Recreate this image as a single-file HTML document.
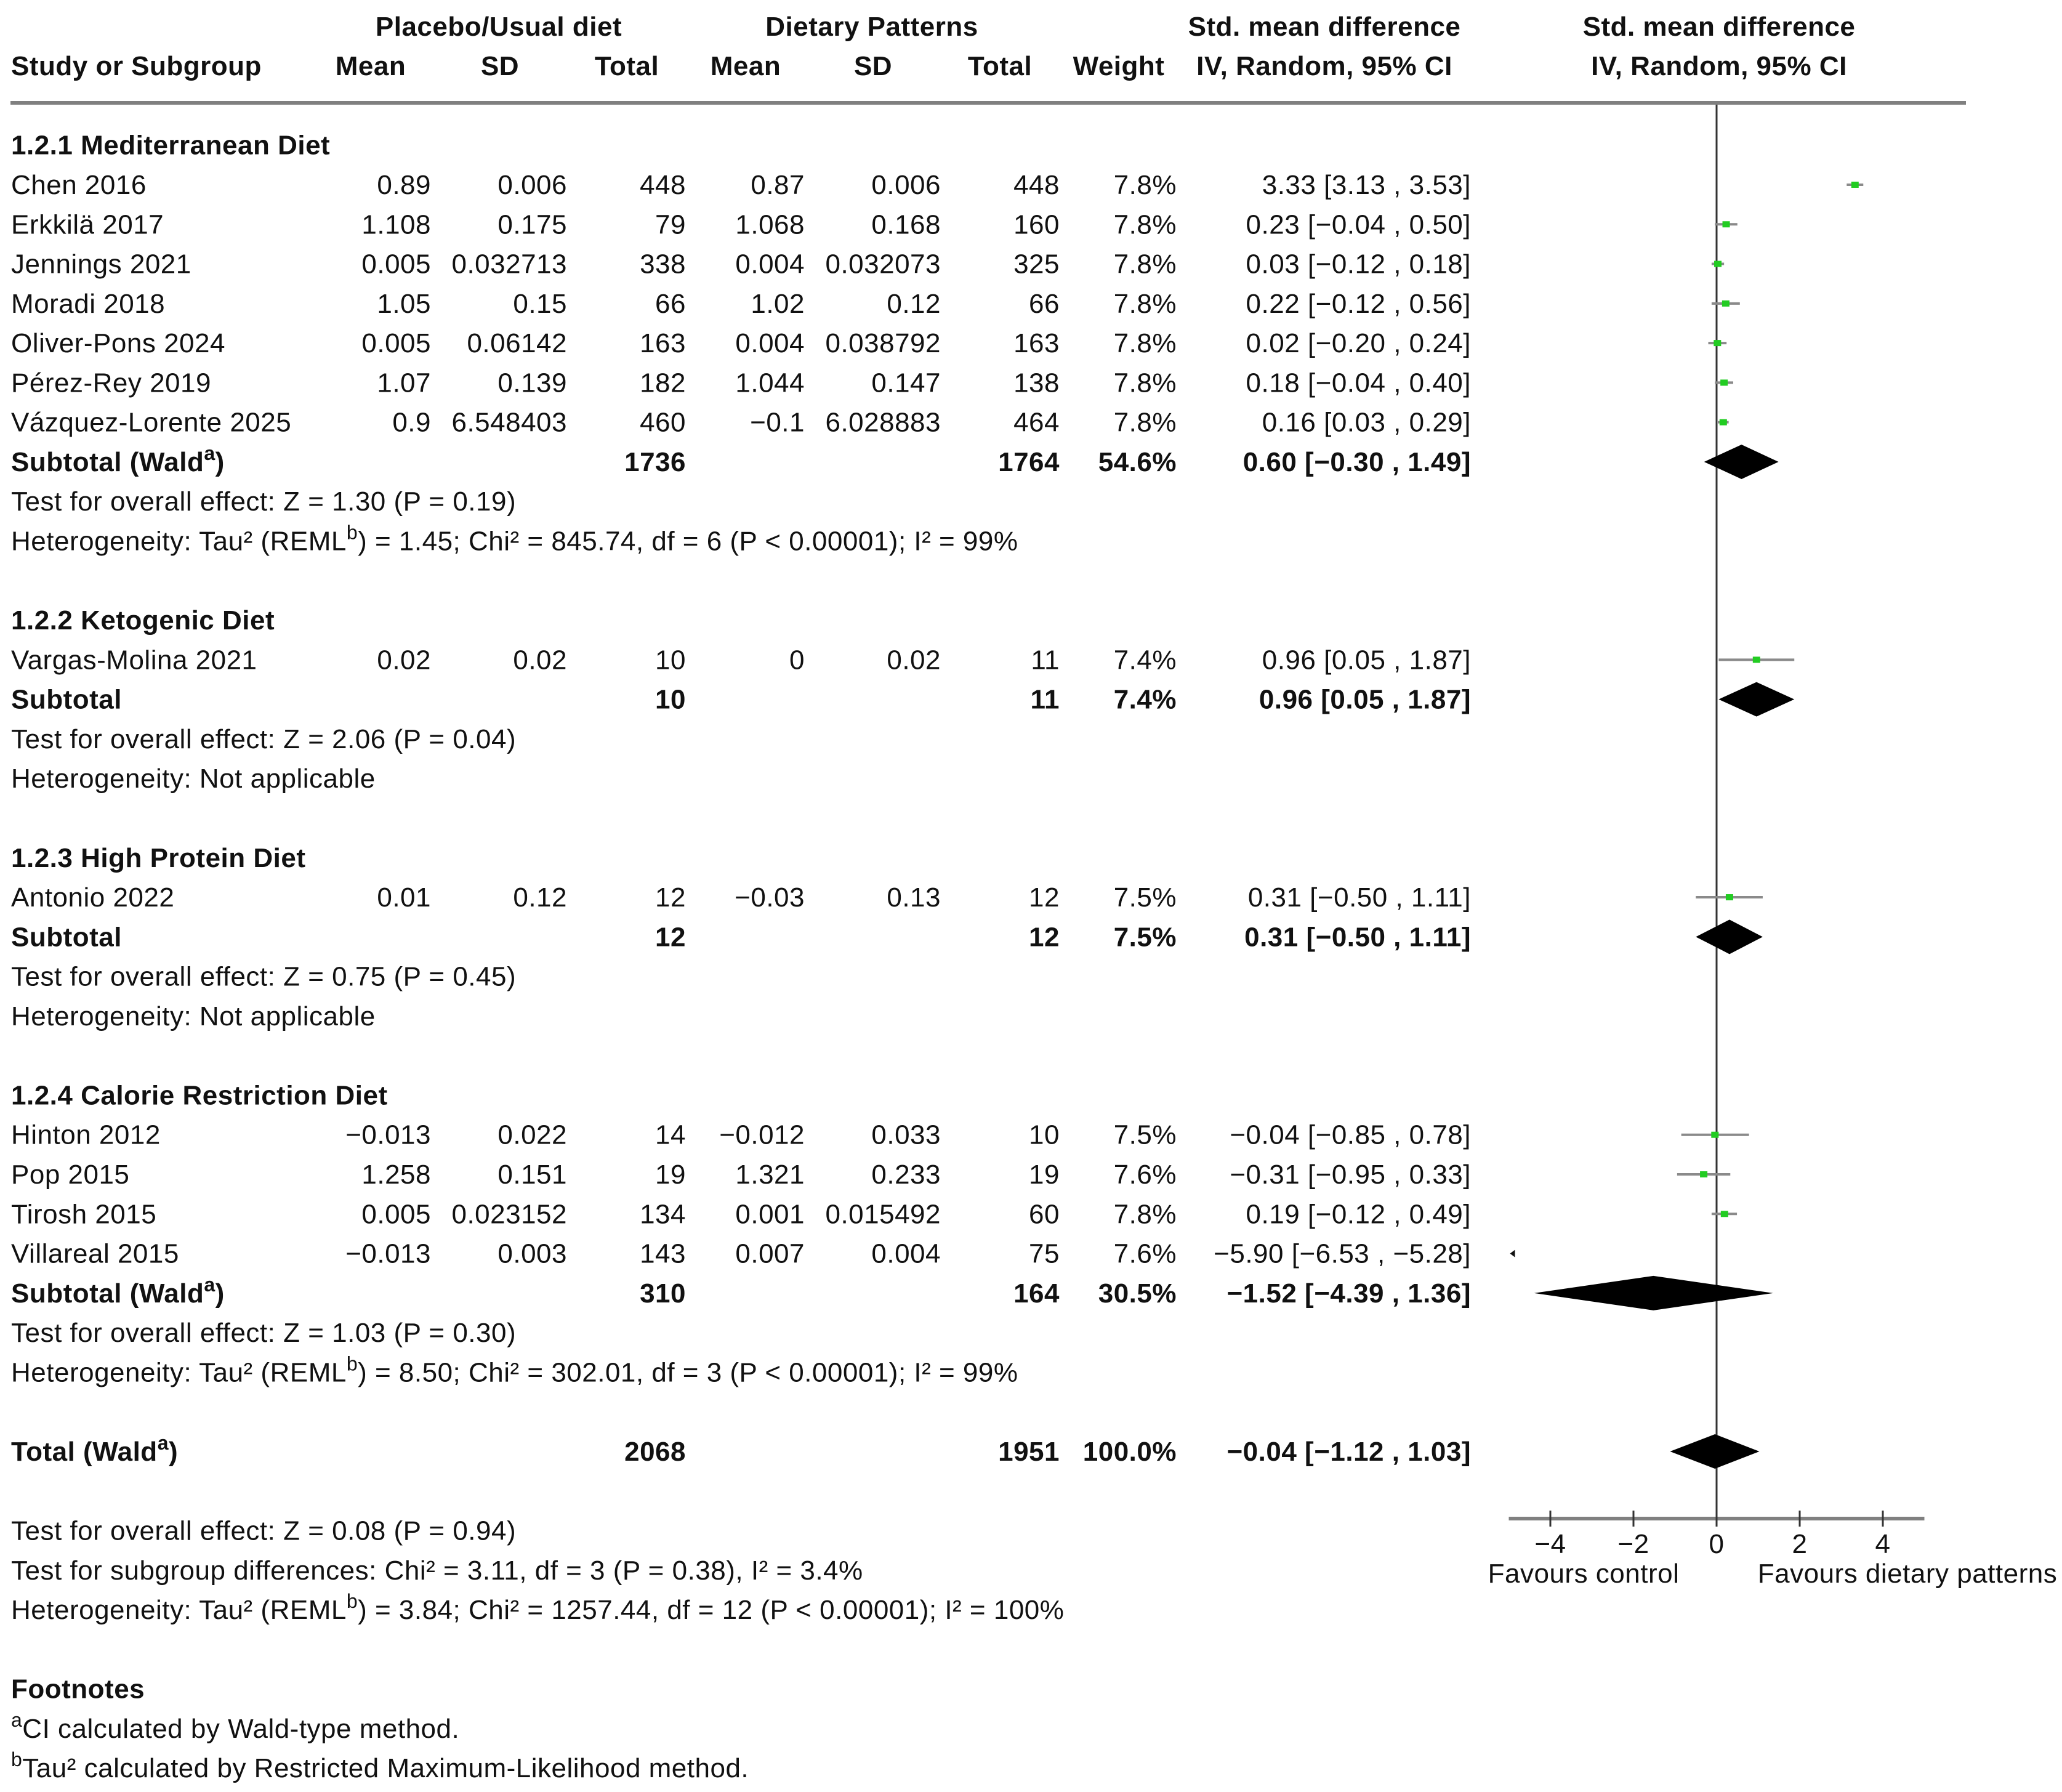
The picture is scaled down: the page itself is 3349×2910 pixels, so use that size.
<!DOCTYPE html>
<html><head><meta charset="utf-8"><style>
html,body{margin:0;padding:0;background:#fff;}
svg{display:block;font-family:"Liberation Sans",Arial,sans-serif;}
text{font-size:44px;fill:#111;letter-spacing:0.5px;}
.b{font-weight:bold;}
</style></head><body>
<svg id="c" width="3349" height="2910" viewBox="0 0 3349 2910" xmlns="http://www.w3.org/2000/svg"></svg>
<script>
const rowNames=["1.2.1 Mediterranean Diet","Chen 2016","Erkkilä 2017","Jennings 2021","Moradi 2018","Oliver-Pons 2024","Pérez-Rey 2019","Vázquez-Lorente 2025","Subtotal (Wald|a|)","Test for overall effect: Z = 1.30 (P = 0.19)","Heterogeneity: Tau² (REML|b|) = 1.45; Chi² = 845.74, df = 6 (P < 0.00001); I² = 99%","",
"1.2.2 Ketogenic Diet","Vargas-Molina 2021","Subtotal","Test for overall effect: Z = 2.06 (P = 0.04)","Heterogeneity: Not applicable","",
"1.2.3 High Protein Diet","Antonio 2022","Subtotal","Test for overall effect: Z = 0.75 (P = 0.45)","Heterogeneity: Not applicable","",
"1.2.4 Calorie Restriction Diet","Hinton 2012","Pop 2015","Tirosh 2015","Villareal 2015","Subtotal (Wald|a|)","Test for overall effect: Z = 1.03 (P = 0.30)","Heterogeneity: Tau² (REML|b|) = 8.50; Chi² = 302.01, df = 3 (P < 0.00001); I² = 99%","",
"Total (Wald|a|)","","Test for overall effect: Z = 0.08 (P = 0.94)","Test for subgroup differences: Chi² = 3.11, df = 3 (P = 0.38), I² = 3.4%","Heterogeneity: Tau² (REML|b|) = 3.84; Chi² = 1257.44, df = 12 (P < 0.00001); I² = 100%","",
"Footnotes","|a|CI calculated by Wald-type method.","|b|Tau² calculated by Restricted Maximum-Likelihood method."];
const rowKind=["h","s","s","s","s","s","s","s","t","n","n","",
"h","s","t","n","n","",
"h","s","t","n","n","",
"h","s","s","s","s","t","n","n","",
"t","","n","n","n","",
"h","n","n"];
const mean1={1:"0.89",2:"1.108",3:"0.005",4:"1.05",5:"0.005",6:"1.07",7:"0.9",13:"0.02",19:"0.01",25:"−0.013",26:"1.258",27:"0.005",28:"−0.013"};
const sd1={1:"0.006",2:"0.175",3:"0.032713",4:"0.15",5:"0.06142",6:"0.139",7:"6.548403",13:"0.02",19:"0.12",25:"0.022",26:"0.151",27:"0.023152",28:"0.003"};
const tot1={1:"448",2:"79",3:"338",4:"66",5:"163",6:"182",7:"460",8:"1736",13:"10",14:"10",19:"12",20:"12",25:"14",26:"19",27:"134",28:"143",29:"310",33:"2068"};
const mean2={1:"0.87",2:"1.068",3:"0.004",4:"1.02",5:"0.004",6:"1.044",7:"−0.1",13:"0",19:"−0.03",25:"−0.012",26:"1.321",27:"0.001",28:"0.007"};
const sd2={1:"0.006",2:"0.168",3:"0.032073",4:"0.12",5:"0.038792",6:"0.147",7:"6.028883",13:"0.02",19:"0.13",25:"0.033",26:"0.233",27:"0.015492",28:"0.004"};
const tot2={1:"448",2:"160",3:"325",4:"66",5:"163",6:"138",7:"464",8:"1764",13:"11",14:"11",19:"12",20:"12",25:"10",26:"19",27:"60",28:"75",29:"164",33:"1951"};
const weight={1:"7.8%",2:"7.8%",3:"7.8%",4:"7.8%",5:"7.8%",6:"7.8%",7:"7.8%",8:"54.6%",13:"7.4%",14:"7.4%",19:"7.5%",20:"7.5%",25:"7.5%",26:"7.6%",27:"7.8%",28:"7.6%",29:"30.5%",33:"100.0%"};
const est={1:3.33,2:0.23,3:0.03,4:0.22,5:0.02,6:0.18,7:0.16,8:0.60,13:0.96,14:0.96,19:0.31,20:0.31,25:-0.04,26:-0.31,27:0.19,28:-5.90,29:-1.52,33:-0.04};
const lo={1:3.13,2:-0.04,3:-0.12,4:-0.12,5:-0.20,6:-0.04,7:0.03,8:-0.30,13:0.05,14:0.05,19:-0.50,20:-0.50,25:-0.85,26:-0.95,27:-0.12,28:-6.53,29:-4.39,33:-1.12};
const hi={1:3.53,2:0.50,3:0.18,4:0.56,5:0.24,6:0.40,7:0.29,8:1.49,13:1.87,14:1.87,19:1.11,20:1.11,25:0.78,26:0.33,27:0.49,28:-5.28,29:1.36,33:1.03};
const ticks=[-4,-2,0,2,4];
const tickLabels=["−4","−2","0","2","4"];

const S=2.1427, NS="http://www.w3.org/2000/svg", svg=document.getElementById('c');
const xMin=-5,xMax=5,x0=2788,unit=67.5;
function xs(v){return x0+v*unit;}
function ry(i){return (110+30*i)*S;}
function el(t,a){const e=document.createElementNS(NS,t);for(const k in a)e.setAttribute(k,a[k]);svg.appendChild(e);return e;}
function fmt(v){return (v<0?"−":"")+Math.abs(v).toFixed(2);}
function txt(x,y,s,anchor,bold){
  const e=el('text',{x:x,y:y,'text-anchor':anchor||'start'});
  if(bold)e.setAttribute('class','b');
  const parts=s.split('|');
  parts.forEach((p,k)=>{if(!p)return;const t=document.createElementNS(NS,'tspan');
    if(k%2==1){t.setAttribute('font-size','32');t.setAttribute('baseline-shift','super');}
    t.textContent=p;e.appendChild(t);});
  return e;
}
const h1=[["Placebo/Usual diet",810],["Dietary Patterns",1416],["Std. mean difference",2151],["Std. mean difference",2792]];
h1.forEach(h=>{const e=txt(h[1],58,h[0],'middle',true);});
const h2=[["Mean",602],["SD",812],["Total",1018],["Mean",1211],["SD",1418],["Total",1624],["Weight",1817],["IV, Random, 95% CI",2151],["IV, Random, 95% CI",2792]];
let e0=txt(18,122,"Study or Subgroup",'start',true);
h2.forEach(h=>{const e=txt(h[1],122,h[0],'middle',true);});
let rule=el('rect',{x:17,y:164,width:3176,height:6,fill:'#808080'});

let zl=el('line',{x1:x0,y1:170,x2:x0,y2:2466,stroke:'#333','stroke-width':3});

rowNames.forEach((n,i)=>{
  const y=ry(i)+15, k=rowKind[i], bold=(k=='h'||k=='t');
  if(n){const e=txt(18,y,n,'start',bold);}
  [[mean1,700],[sd1,921],[tot1,1114],[mean2,1307],[sd2,1528],[tot2,1721],[weight,1911]].forEach(c=>{
    if(c[0][i]!==undefined){const e=txt(c[1],y,c[0][i],'end',bold);}
  });
  if(est[i]!==undefined){
    const ci=fmt(est[i])+" ["+fmt(lo[i])+" , "+fmt(hi[i])+"]";
    const e=txt(2389,y,ci,'end',bold);
    const cy=ry(i);
    if(k=='s'){
      if(hi[i]<xMin){
        const a=el('polygon',{points:(xs(xMin)+10)+","+(cy-6)+" "+(xs(xMin)+10)+","+(cy+6)+" "+(xs(xMin)+2)+","+cy,fill:'#111'});
        
      } else {
        const l=el('line',{x1:xs(Math.max(lo[i],xMin)),x2:xs(Math.min(hi[i],xMax)),y1:cy,y2:cy,stroke:'#8a8a8a','stroke-width':4});
        
        const m=el('rect',{x:xs(est[i])-6,y:cy-5,width:12,height:10,fill:'#22cc22'});
        
      }
    } else {
      const d=el('polygon',{points:xs(lo[i])+","+cy+" "+xs(est[i])+","+(cy-28)+" "+xs(hi[i])+","+cy+" "+xs(est[i])+","+(cy+28),fill:'#000'});
      
    }
  }
});
const ay=2466;
let ax=el('line',{x1:xs(xMin),x2:xs(xMax),y1:ay,y2:ay,stroke:'#808080','stroke-width':6});

ticks.forEach((t,k)=>{
  const tl=el('line',{x1:xs(t),x2:xs(t),y1:ay-13,y2:ay+13,stroke:'#333','stroke-width':3});
  
  const e=txt(xs(t),ay+56,tickLabels[k],'middle',false);
});
let f1=txt(2572,2570,"Favours control",'middle',false);
let f2=txt(3098,2570,"Favours dietary patterns",'middle',false);
</script>
</body></html>
